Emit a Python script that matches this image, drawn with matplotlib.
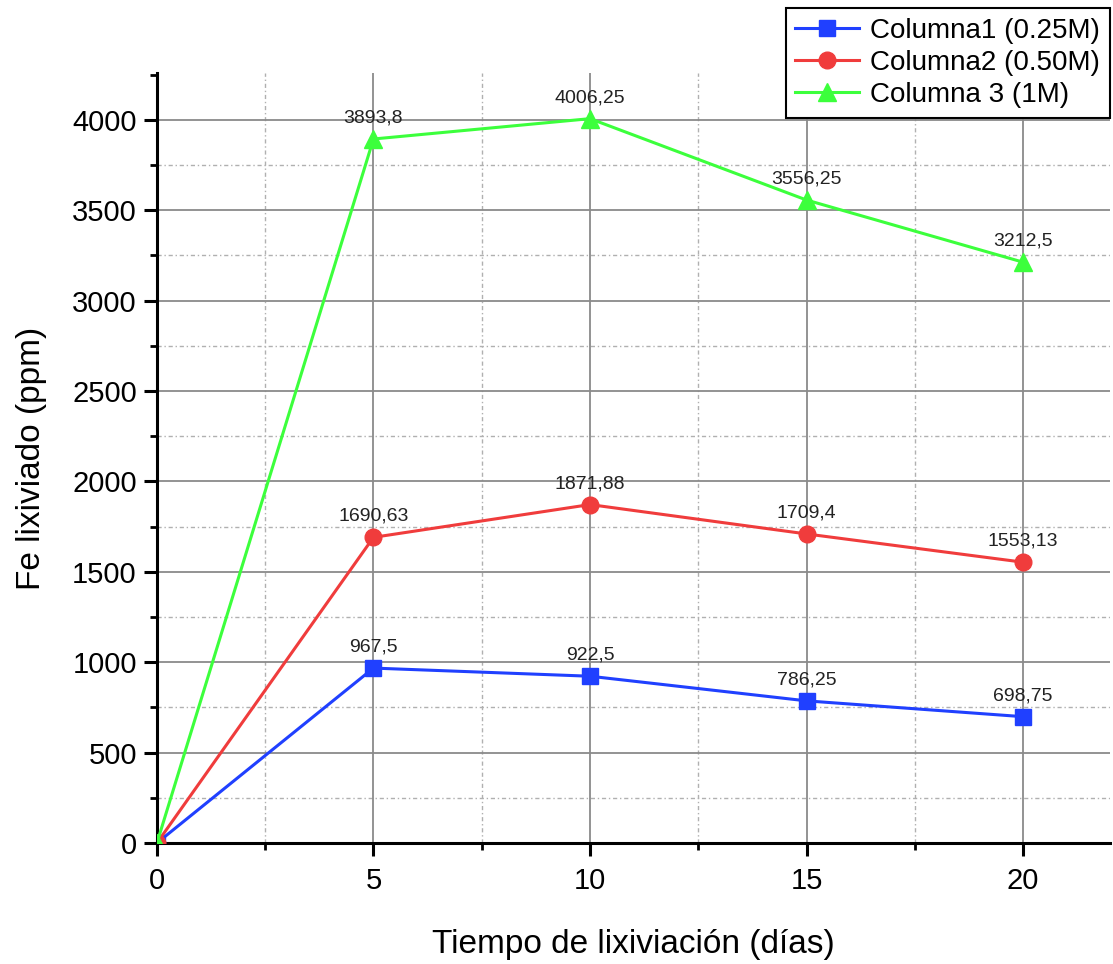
import matplotlib
matplotlib.use('Agg')
import matplotlib.pyplot as plt
from matplotlib.ticker import MultipleLocator

plt.rcParams['font.family'] = ['Liberation Sans', 'DejaVu Sans']

# datos
dias = [0, 5, 10, 15, 20]
col1 = [0, 967.5, 922.5, 786.25, 698.75]
col2 = [0, 1690.63, 1871.88, 1709.4, 1553.13]
col3 = [0, 3893.8, 4006.25, 3556.25, 3212.5]
etiq1 = ["967,5", "922,5", "786,25", "698,75"]
etiq2 = ["1690,63", "1871,88", "1709,4", "1553,13"]
etiq3 = ["3893,8", "4006,25", "3556,25", "3212,5"]
nombres = ["Columna1 (0.25M)", "Columna2 (0.50M)", "Columna 3 (1M)"]

azul = "#2040ff"
rojo = "#f03c3c"
verde = "#3cff3c"

fig = plt.figure(figsize=(11.13, 9.64), dpi=100)
ax = fig.add_axes([0.141, 0.1255, 0.856, 0.799])

ax.plot(dias, col1, color=azul, marker="s", markersize=11, linewidth=2.2, label=nombres[0], zorder=4)
ax.plot(dias, col2, color=rojo, marker="o", markersize=12, linewidth=2.2, label=nombres[1], zorder=4)
ax.plot(dias, col3, color=verde, marker="^", markersize=13, linewidth=2.2, label=nombres[2], zorder=4)

# etiquetas de valores
for serie, etiq in [(col1, etiq1), (col2, etiq2), (col3, etiq3)]:
    for xv, yv, t in zip(dias[1:], serie[1:], etiq):
        ax.annotate(t, (xv, yv), xytext=(0, 9), textcoords="offset points",
                    ha="center", va="bottom", fontsize=14, color="#222222", zorder=5)

ax.set_xlim(0, 22)
ax.set_ylim(0, 4260)
ax.xaxis.set_major_locator(MultipleLocator(5))
ax.xaxis.set_minor_locator(MultipleLocator(2.5))
ax.yaxis.set_major_locator(MultipleLocator(500))
ax.yaxis.set_minor_locator(MultipleLocator(250))

# rejilla principal
ax.grid(True, which="major", color="#8a8a8a", linewidth=1.3, zorder=0)
# rejilla secundaria (sin la linea superior)
minor_style = dict(color="#b0b0b0", linewidth=1.0, linestyle=(0, (3, 2, 1, 2)), zorder=0)
for xm in [2.5, 7.5, 12.5, 17.5]:
    ax.axvline(xm, **minor_style)
for ym in [250, 750, 1250, 1750, 2250, 2750, 3250, 3750]:
    ax.axhline(ym, **minor_style)
ax.set_axisbelow(True)

for s in ["top", "right"]:
    ax.spines[s].set_visible(False)
for s in ["left", "bottom"]:
    ax.spines[s].set_linewidth(2.2)

ax.tick_params(which="major", direction="out", length=9.5, width=2.2, labelsize=21)
ax.tick_params(axis="x", which="major", pad=8)
ax.tick_params(axis="y", which="major", pad=5)
ax.tick_params(which="minor", direction="out", length=5, width=2.0)

ax.set_xlabel("Tiempo de lixiviación (días)", fontsize=24, labelpad=24)
ax.set_ylabel("Fe lixiviado (ppm)", fontsize=24, labelpad=18)

leg = ax.legend(loc="upper right", bbox_to_anchor=(1110 / 1113, 1 - 8 / 964),
                bbox_transform=fig.transFigure, borderaxespad=0, fontsize=20,
                fancybox=False, framealpha=1, edgecolor="black", handlelength=2.3,
                labelspacing=0.22, borderpad=0.35, handletextpad=0.4)
leg.get_frame().set_linewidth(1.5)

fig.savefig("out.png", dpi=100)
